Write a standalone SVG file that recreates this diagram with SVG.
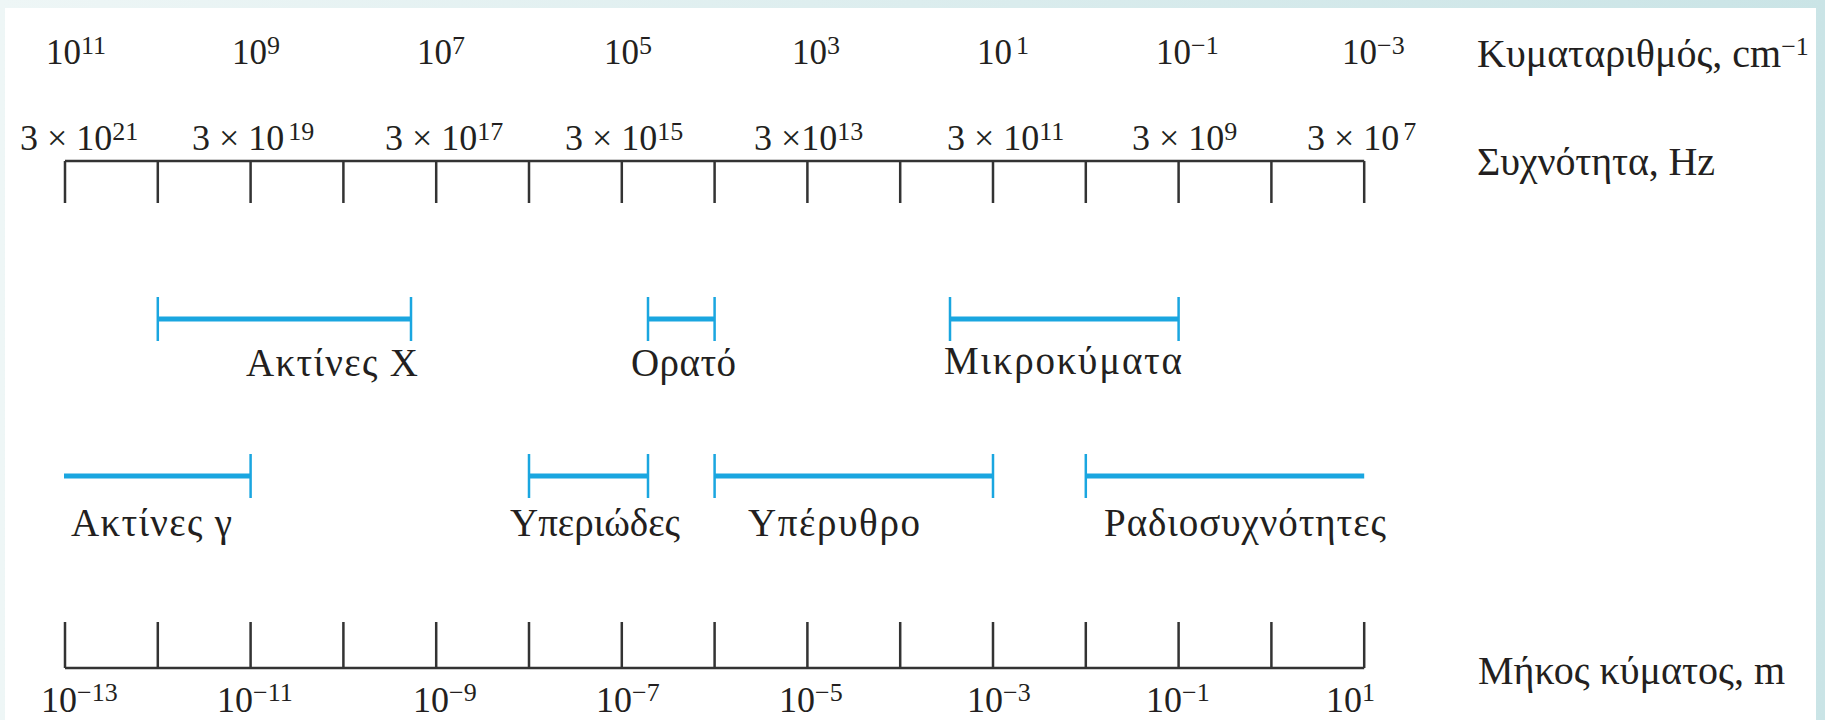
<svg xmlns="http://www.w3.org/2000/svg" width="1825" height="720" viewBox="0 0 1825 720">
<defs>
<linearGradient id="frame" x1="0" y1="0" x2="1" y2="0">
<stop offset="0" stop-color="#eef6f6"/>
<stop offset="1" stop-color="#cae4e6"/>
</linearGradient>
<style>
text{font-family:"Liberation Serif","Times New Roman",serif;fill:#231f20}
.t1{font-size:35px}
.t2{font-size:36px}
.lab{font-size:39px}
.side{font-size:40px}
.sup{font-size:26px}
.axis{stroke:#333;stroke-width:2.5;fill:none}
.bar{stroke:#1aa6e0;stroke-width:5;fill:none}
.cap{stroke:#1aa6e0;stroke-width:2.5;fill:none}
</style>
</defs>
<rect x="0" y="0" width="1825" height="720" fill="url(#frame)"/>
<rect x="5" y="8" width="1811" height="712" fill="#ffffff"/>

<g id="wavenumber-scale">
<text class="t1" x="46" y="64">10<tspan class="sup" dy="-10">11</tspan></text>
<text class="t1" x="232" y="64">10<tspan class="sup" dy="-10">9</tspan></text>
<text class="t1" x="417" y="64">10<tspan class="sup" dy="-10">7</tspan></text>
<text class="t1" x="604" y="64">10<tspan class="sup" dy="-10">5</tspan></text>
<text class="t1" x="792" y="64">10<tspan class="sup" dy="-10">3</tspan></text>
<text class="t1" x="977" y="64">10<tspan class="sup" dy="-10" dx="4">1</tspan></text>
<text class="t1" x="1156" y="64">10<tspan class="sup" dy="-10">−1</tspan></text>
<text class="t1" x="1342" y="64">10<tspan class="sup" dy="-10">−3</tspan></text>
<text class="side" x="1477" y="67">Κυματαριθμός, cm<tspan class="sup" dy="-12">−1</tspan></text>
</g>

<g id="frequency-scale">
<text class="t2" x="20" y="150">3 × 10<tspan class="sup" dy="-10">21</tspan></text>
<text class="t2" x="192" y="150">3 × 10<tspan class="sup" dy="-10" dx="4">19</tspan></text>
<text class="t2" x="385" y="150">3 × 10<tspan class="sup" dy="-10">17</tspan></text>
<text class="t2" x="565" y="150">3 × 10<tspan class="sup" dy="-10">15</tspan></text>
<text class="t2" x="754" y="150">3 ×10<tspan class="sup" dy="-10">13</tspan></text>
<text class="t2" x="947" y="150">3 × 10<tspan class="sup" dy="-10">11</tspan></text>
<text class="t2" x="1132" y="150">3 × 10<tspan class="sup" dy="-10">9</tspan></text>
<text class="t2" x="1307" y="150">3 × 10<tspan class="sup" dy="-10" dx="4">7</tspan></text>
<text class="side" x="1477" y="175" textLength="238" lengthAdjust="spacing">Συχνότητα, Hz</text>
</g>

<g id="top-axis">
<path class="axis" d="M65 161H1364.2 M65 161V203 M157.8 161V203 M250.6 161V203 M343.4 161V203 M436.2 161V203 M529 161V203 M621.8 161V203 M714.6 161V203 M807.4 161V203 M900.2 161V203 M993 161V203 M1085.8 161V203 M1178.6 161V203 M1271.4 161V203 M1364.2 161V203"/>
</g>

<g id="connectors">
<g id="band-xrays"><path class="bar" d="M157.8 319H411"/><path class="cap" d="M157.8 297V341 M411 297V341"/></g>
<g id="band-visible"><path class="bar" d="M648 319H714.6"/><path class="cap" d="M648 297V341 M714.6 297V341"/></g>
<g id="band-microwave"><path class="bar" d="M950 319H1178.6"/><path class="cap" d="M950 297V341 M1178.6 297V341"/></g>
<g id="band-gamma"><path class="bar" d="M64 476H250.6"/><path class="cap" d="M250.6 454V498"/></g>
<g id="band-uv"><path class="bar" d="M529 476H648"/><path class="cap" d="M529 454V498 M648 454V498"/></g>
<g id="band-ir"><path class="bar" d="M714.6 476H993"/><path class="cap" d="M714.6 454V498 M993 454V498"/></g>
<g id="band-radio"><path class="bar" d="M1085.8 476H1364.2"/><path class="cap" d="M1085.8 454V498"/></g>
</g>

<g id="label-xrays"><text class="lab" x="246" y="376" textLength="172" lengthAdjust="spacing">Ακτίνες X</text></g>
<g id="label-visible"><text class="lab" x="631" y="376" textLength="105" lengthAdjust="spacing">Ορατό</text></g>
<g id="label-microwave"><text class="lab" x="944" y="374" textLength="238" lengthAdjust="spacing">Μικροκύματα</text></g>
<g id="label-gamma"><text class="lab" x="71" y="536" textLength="161" lengthAdjust="spacing">Ακτίνες γ</text></g>
<g id="label-uv"><text class="lab" x="510" y="536" textLength="170" lengthAdjust="spacing">Υπεριώδες</text></g>
<g id="label-ir"><text class="lab" x="748" y="536" textLength="172" lengthAdjust="spacing">Υπέρυθρο</text></g>
<g id="label-radio"><text class="lab" x="1104" y="536" textLength="282" lengthAdjust="spacing">Ραδιοσυχνότητες</text></g>

<g id="bottom-axis">
<path class="axis" d="M65 668H1364.2 M65 622V668 M157.8 622V668 M250.6 622V668 M343.4 622V668 M436.2 622V668 M529 622V668 M621.8 622V668 M714.6 622V668 M807.4 622V668 M900.2 622V668 M993 622V668 M1085.8 622V668 M1178.6 622V668 M1271.4 622V668 M1364.2 622V668"/>
</g>

<g id="wavelength-scale">
<text class="t2" x="41" y="712">10<tspan class="sup" dy="-11">−13</tspan></text>
<text class="t2" x="217" y="712">10<tspan class="sup" dy="-11">−11</tspan></text>
<text class="t2" x="413" y="712">10<tspan class="sup" dy="-11">−9</tspan></text>
<text class="t2" x="596" y="712">10<tspan class="sup" dy="-11">−7</tspan></text>
<text class="t2" x="779" y="712">10<tspan class="sup" dy="-11">−5</tspan></text>
<text class="t2" x="967" y="712">10<tspan class="sup" dy="-11">−3</tspan></text>
<text class="t2" x="1146" y="712">10<tspan class="sup" dy="-11">−1</tspan></text>
<text class="t2" x="1326" y="712">10<tspan class="sup" dy="-11">1</tspan></text>
<text class="side" x="1478" y="684" textLength="307" lengthAdjust="spacing">Μήκος κύματος, m</text>
</g>
</svg>
